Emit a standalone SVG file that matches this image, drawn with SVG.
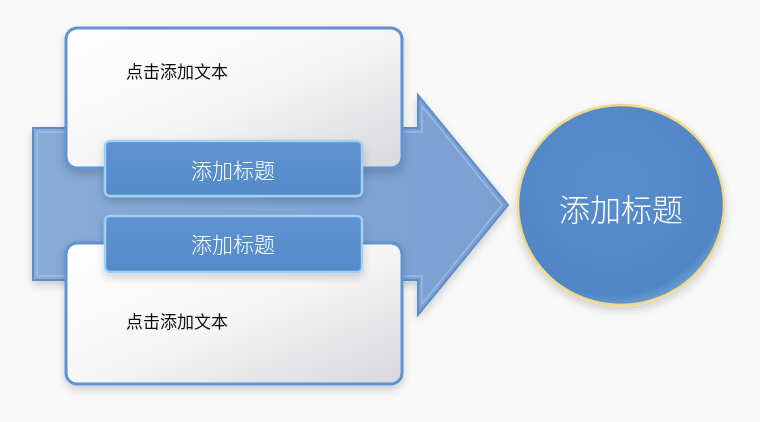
<svg xmlns="http://www.w3.org/2000/svg" width="760" height="422" viewBox="0 0 760 422">
<style>
.body{font-family:"Noto Sans CJK SC","Noto Sans",sans-serif;font-size:17px;fill:#111}
.ttl{font-family:"Noto Sans CJK SC","Noto Sans",sans-serif;font-size:21px;fill:#fff;text-anchor:middle;font-weight:300}
.big{font-family:"Noto Sans CJK SC","Noto Sans",sans-serif;font-size:31px;fill:#fff;text-anchor:middle;font-weight:300}
.card{fill:url(#cardG);stroke:#5e93d3;stroke-width:3}
.tbox{fill:url(#tG);stroke:#9fd0f2;stroke-width:2.5}
</style>
<defs>
<linearGradient id="cardG" x1="0" y1="0" x2="1" y2="1">
<stop offset="0" stop-color="#ffffff"/>
<stop offset="0.5" stop-color="#f6f6f7"/>
<stop offset="1" stop-color="#d7d8da"/>
</linearGradient>
<linearGradient id="tG" x1="0" y1="0" x2="0" y2="1">
<stop offset="0" stop-color="#5f93d0"/>
<stop offset="1" stop-color="#548ac9"/>
</linearGradient>
<linearGradient id="arrG" x1="0" y1="0" x2="1" y2="0">
<stop offset="0" stop-color="#88aad6"/>
<stop offset="1" stop-color="#7aa0d2"/>
</linearGradient>
<radialGradient id="cirG" cx="0.45" cy="0.4" r="0.65">
<stop offset="0" stop-color="#5a8ecd"/>
<stop offset="0.85" stop-color="#5186c6"/>
<stop offset="1" stop-color="#7db0e0"/>
</radialGradient>
<filter id="sh" x="-10%" y="-10%" width="120%" height="130%">
<feDropShadow dx="0" dy="4" stdDeviation="4" flood-color="#000" flood-opacity="0.18"/>
</filter>
</defs>
<rect width="760" height="422" fill="#f9f9f9"/>
<g id="arrow" filter="url(#sh)">
<path d="M33 128 H418 V95 L508 205 L418 315 V280 H33 Z" fill="url(#arrG)" stroke="#5d8ecb" stroke-width="2"/>
<path d="M37 132 H422 V106 L502 205 L422 304 V276 H37 Z" fill="none" stroke="#a9c5e8" stroke-width="1.5" opacity="0.7"/>
</g>
<g id="card1" filter="url(#sh)">
<rect class="card" x="66" y="28" width="336" height="140" rx="11"/>
<text class="body" x="126" y="78">点击添加文本</text>
</g>
<g id="card2" filter="url(#sh)">
<rect class="card" x="66" y="243" width="336" height="141" rx="11"/>
<text class="body" x="126" y="328">点击添加文本</text>
</g>
<g id="title1" filter="url(#sh)">
<rect class="tbox" x="105" y="141" width="257" height="55" rx="5"/>
<text class="ttl" x="233" y="178">添加标题</text>
</g>
<g id="title2" filter="url(#sh)">
<rect class="tbox" x="105" y="216" width="257" height="56" rx="5"/>
<text class="ttl" x="233" y="252">添加标题</text>
</g>
<g id="circle" filter="url(#sh)">
<ellipse cx="621" cy="205" rx="103" ry="100" fill="url(#cirG)" stroke="#efd88c" stroke-width="2.5"/>
<text class="big" x="621" y="221">添加标题</text>
</g>
<g id="connectors"/>
</svg>
